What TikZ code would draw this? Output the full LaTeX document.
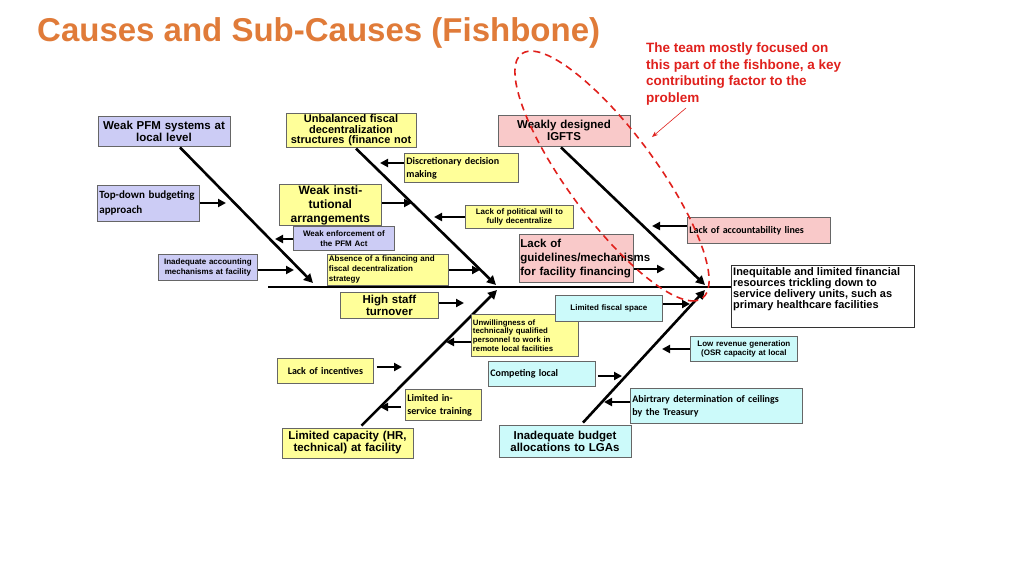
\documentclass[tikz,border=0pt]{standalone}
\usepackage{fontspec}
\setmainfont{Liberation Sans}
\newfontfamily\calfnt{Carlito}
\usetikzlibrary{arrows.meta,calc}
\definecolor{pur}{HTML}{CCCCF5}
\definecolor{yel}{HTML}{FFFF99}
\definecolor{pnk}{HTML}{F9C9C9}
\definecolor{cyn}{HTML}{CCFAFA}
\definecolor{ttl}{HTML}{E07B39}
\definecolor{annot}{HTML}{E0201C}
\begin{document}
\begin{tikzpicture}[x=1pt,y=-1pt,
  box/.style={draw=gray!80!black,line width=0.8pt,inner sep=1pt,font=\bfseries\fontsize{11.5}{12}\selectfont,align=center},
  sm/.style={box,font=\bfseries\fontsize{8}{9.5}\selectfont},
  cal/.style={box,font=\calfnt\bfseries\fontsize{11}{15}\selectfont,align=left},
  calsm/.style={box,font=\calfnt\bfseries\fontsize{10}{13}\selectfont,align=left},
  bone/.style={line width=2.6pt,-{Triangle[length=9pt,width=9pt]}},
  sub/.style={line width=2.4pt,-{Triangle[length=8pt,width=8pt]}}]
\useasboundingbox (0,0) rectangle (1024,576);
\fill[white] (0,0) rectangle (1024,576);
\node[font=\bfseries\fontsize{33}{34}\selectfont,text=ttl,anchor=west,inner sep=0pt] (title) at (37,33) {Causes and Sub-Causes (Fishbone)};
\node[font=\bfseries\fontsize{13.5}{16.5}\selectfont,text=annot,align=left,anchor=north west,inner sep=0pt] (note) at (646,43) {The team mostly focused on\\this part of the fishbone, a key\\contributing factor to the\\problem};
% spine and head
\coordinate (sp0) at (268,287);
\node[draw=black!80,line width=0.8pt,minimum width=183,minimum height=62,anchor=north west,inner sep=0pt] (head) at (731,265) {};
\node[font=\bfseries\fontsize{11}{11}\selectfont,align=left,anchor=north west,inner sep=0pt] (headt) at (733,267) {Inequitable and limited financial\\resources trickling down to\\service delivery units, such as\\primary healthcare facilities};
\draw[line width=2.6pt] (sp0) -- (head.west |- sp0);
% main causes
\node[box,fill=pur,minimum width=132,minimum height=30,text width=128] (c1) at (164,131) {Weak PFM systems at\\local level};
\node[box,fill=yel,minimum width=130,minimum height=31,text width=128,font=\bfseries\fontsize{11}{10.5}\selectfont] (c2) at (351,130.5) {Unbalanced fiscal\\decentralization\\structures (finance not};
\node[box,fill=pnk,minimum width=132,minimum height=31,text width=128] (c3) at (564,130.5) {Weakly designed\\IGFTS};
\node[box,fill=yel,minimum width=131,minimum height=30,text width=128] (c4) at (347.5,443) {Limited capacity (HR,\\technical) at facility};
\node[box,fill=cyn,minimum width=132,minimum height=32,text width=128] (c5) at (565,441) {Inadequate budget\\allocations to LGAs};
\coordinate (e1) at (313,283);
\coordinate (e2) at (496,285);
\coordinate (e3) at (705,285);
\coordinate (e4) at (497,290);
\coordinate (e5) at (705,290);
\draw[bone] ($(c1.south)+(16,1)$) -- (e1);
\draw[bone] ($(c2.south)+(5,1)$) -- (e2);
\draw[bone] ($(c3.south)+(-3,1)$) -- (e3);
\draw[bone] ($(c4.north)+(14,-2)$) -- (e4);
\draw[bone] ($(c5.north)+(18,-2)$) -- (e5);
% sub causes
\node[cal,fill=pur,minimum width=102,minimum height=36,text width=98,anchor=north west] (s1) at (97,185) {Top-down budgeting\\approach};
\node[sm,fill=pur,minimum width=101,minimum height=24,text width=98,anchor=north west] (s2) at (293,226) {Weak enforcement of\\the PFM Act};
\node[sm,fill=pur,minimum width=99,minimum height=26,text width=96,anchor=north west] (s3) at (158,254) {Inadequate accounting\\mechanisms at facility};
\node[calsm,fill=yel,minimum width=114,minimum height=29,text width=110,anchor=north west] (s4) at (404,153) {Discretionary decision\\making};
\node[box,fill=yel,minimum width=102,minimum height=34,text width=98,anchor=north west,font=\bfseries\fontsize{12}{14}\selectfont] (s5) at (279,184) {Weak institutional\\arrangements};
\node[sm,fill=yel,minimum width=108,minimum height=23,text width=105,anchor=north west] (s6) at (465,205) {Lack of political will to\\fully decentralize};
\node[sm,fill=yel,minimum width=121,minimum height=31,text width=118,align=left,anchor=north west,font=\bfseries\fontsize{8}{10}\selectfont] (s7) at (327,254) {Absence of a financing and\\fiscal decentralization\\strategy};
\node[calsm,fill=pnk,minimum width=143,minimum height=26,text width=139,anchor=north west] (s8) at (687,217) {Lack of accountability lines\\[-2pt]};
\node[box,fill=pnk,minimum width=114,minimum height=48,text width=112,align=left,anchor=north west,font=\bfseries\fontsize{11.5}{14}\selectfont] (s9) at (519,234) {Lack of\\guidelines/mechanisms\\for facility financing};
\node[box,fill=yel,minimum width=97,minimum height=26,text width=96,anchor=north west] (s10) at (340,292) {High staff turnover};
\node[sm,fill=yel,minimum width=107,minimum height=42,text width=104,align=left,anchor=north west,font=\bfseries\fontsize{7.8}{8.6}\selectfont] (s11) at (471,314) {Unwillingness of\\technically qualified\\personnel to work in\\remote local facilities};
\node[calsm,fill=yel,minimum width=96,minimum height=25,text width=92,align=center,anchor=north west] (s12) at (277,358) {Lack of incentives\\[-3pt]};
\node[calsm,fill=yel,minimum width=76,minimum height=31,text width=72,anchor=north west] (s13) at (405,389) {Limited in-\\service training};
\node[sm,fill=cyn,minimum width=107,minimum height=26,text width=104,anchor=north west] (s14) at (555,295) {Limited fiscal space\\[3pt]};
\node[calsm,fill=cyn,minimum width=107,minimum height=25,text width=103,anchor=north west] (s15) at (488,361) {Competing local\\[-3pt]};
\node[sm,fill=cyn,minimum width=107,minimum height=25,text width=104,anchor=north west] (s16) at (690,336) {Low revenue generation\\(OSR capacity at local};
\node[calsm,fill=cyn,minimum width=172,minimum height=35,text width=168,anchor=north west] (s17) at (630,388) {Abirtrary determination of ceilings\\by the Treasury\\[-2pt]};
% sub arrows
\coordinate (a1) at (226,203);  \draw[sub] (s1.east |- a1) -- (a1);
\coordinate (a2) at (275,239);  \draw[sub] (s2.west |- a2) -- (a2);
\coordinate (a3) at (294,270);  \draw[sub] (s3.east |- a3) -- (a3);
\coordinate (a4) at (380,163);  \draw[sub] (s4.west |- a4) -- (a4);
\coordinate (a5) at (412,203);  \draw[sub] (s5.east |- a5) -- (a5);
\coordinate (a6) at (434,217);  \draw[sub] (s6.west |- a6) -- (a6);
\coordinate (a7) at (480,270);  \draw[sub] (s7.east |- a7) -- (a7);
\coordinate (a8) at (652,226);  \draw[sub] (s8.west |- a8) -- (a8);
\coordinate (a9) at (665,269);  \draw[sub] (s9.east |- a9) -- (a9);
\coordinate (a10) at (464,303); \draw[sub] (s10.east |- a10) -- (a10);
\coordinate (a11) at (446,342); \draw[sub] (s11.west |- a11) -- (a11);
\coordinate (a12) at (402,367); \draw[sub] ($(s12.east |- a12)+(3,0)$) -- (a12);
\coordinate (a13) at (380,407); \draw[sub] ($(s13.west |- a13)+(-4,0)$) -- (a13);
\coordinate (a14) at (690,304); \draw[sub] (s14.east |- a14) -- (a14);
\coordinate (a15) at (622,376); \draw[sub] ($(s15.east |- a15)+(2,0)$) -- (a15);
\coordinate (a16) at (662,349); \draw[sub] (s16.west |- a16) -- (a16);
\coordinate (a17) at (604,402); \draw[sub] (s17.west |- a17) -- (a17);
% highlight
\draw[annot,line width=1.6pt,dash pattern=on 7pt off 5pt] plot[smooth cycle,domain=0:350,samples=36,variable=\t]
  ({612+152*cos(\t)*0.595-44*sin(\t)*0.804},{176+152*cos(\t)*0.804+44*sin(\t)*0.595});
\coordinate (na) at (652,137);
\draw[annot,line width=0.6pt,-{Stealth[length=6pt]}] (686,108) -- (na);
\end{tikzpicture}
\end{document}
